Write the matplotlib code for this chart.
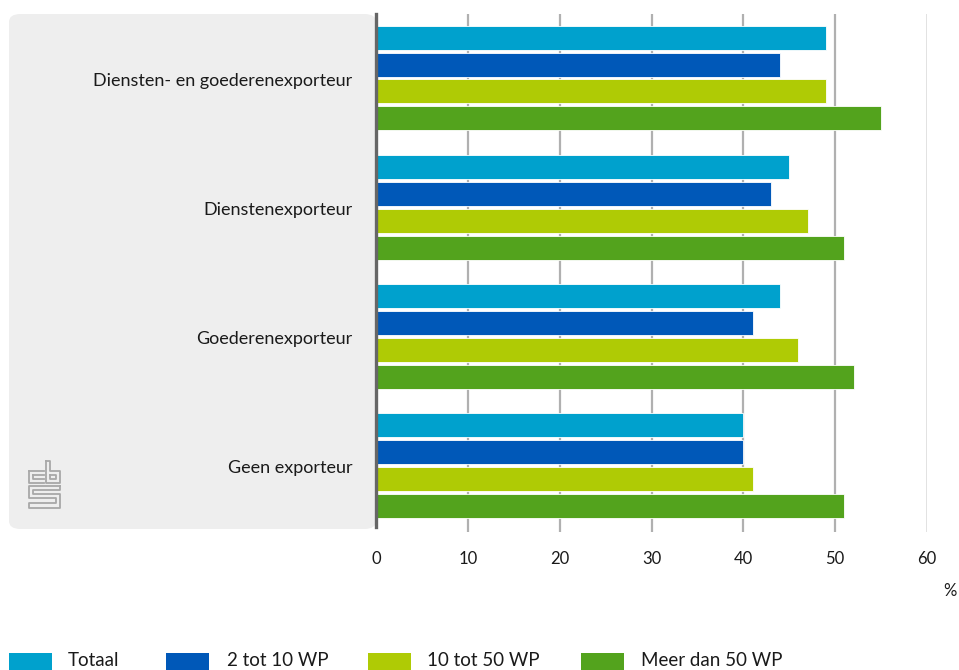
import matplotlib
matplotlib.use("Agg")
import matplotlib.pyplot as plt
from matplotlib.patches import FancyBboxPatch, Rectangle
import numpy as np

plt.rcParams['font.family'] = ['Lato', 'DejaVu Sans']

categories = ["Diensten- en goederenexporteur", "Dienstenexporteur",
              "Goederenexporteur", "Geen exporteur"]
series_names = ["Totaal", "2 tot 10 WP", "10 tot 50 WP", "Meer dan 50 WP"]
totaal = [49, 45, 44, 40]
wp_2_10 = [44, 43, 41, 40]
wp_10_50 = [49, 47, 46, 41]
wp_50_plus = [55, 51, 52, 51]
xticks = [0, 10, 20, 30, 40, 50, 60]

series = [totaal, wp_2_10, wp_10_50, wp_50_plus]
colors = ["#00a1cd", "#0058b8", "#afcb05", "#53a31d"]

W, H = 959, 670
fig = plt.figure(figsize=(W / 100, H / 100), dpi=100)

# plot area in pixel coordinates
x0, x1 = 376, 927
y_top, y_bot = 14, 532
ax = fig.add_axes([x0 / W, 1 - y_bot / H, (x1 - x0) / W, (y_bot - y_top) / H])
ax.set_facecolor("none")
ax.set_zorder(2)

# grey label panel behind the category names
panel = FancyBboxPatch((9 / W, 1 - 529 / H), (376 - 9) / W, (529 - 14) / H,
                       boxstyle="round,pad=0,rounding_size=0.012",
                       transform=fig.transFigure, facecolor="#eeeeee",
                       edgecolor="none", zorder=-1)
fig.patches.append(panel)

ypos = np.arange(len(categories))
step = 0.209
height = 0.186
for i, (vals, col) in enumerate(zip(series, colors)):
    ax.barh(ypos + (i - 1.5) * step - 0.008, vals, height=height, color=col,
            edgecolor="white", linewidth=0.6, zorder=3)

ax.set_xlim(0, 60)
ax.set_ylim(3.51, -0.504)

for v in xticks[1:-1]:
    ax.axvline(v, color="#b0b0b0", lw=1.6, zorder=1)
ax.axvline(60, color="#707070", lw=1.0, zorder=1)

for s in ["top", "right", "bottom"]:
    ax.spines[s].set_visible(False)
ax.spines["left"].set_color("#666666")
ax.spines["left"].set_linewidth(2.4)
ax.spines["left"].set_zorder(5)
ax.spines["left"].set_bounds(3.47, -0.504)

ax.set_yticks(ypos)
ax.set_yticklabels(categories, fontsize=13, color="#1a1a1a")
ax.tick_params(axis="y", length=0, pad=17)
ax.set_xticks(xticks)
ax.set_xticklabels([str(v) for v in xticks], fontsize=12, color="#1a1a1a")
ax.tick_params(axis="x", length=0, pad=14)

fig.text(950 / W, 1 - 591 / H, "%", fontsize=12, color="#1a1a1a",
         ha="center", va="center")

# cbs logo
logo_col = "#a8a8a8"
lx, ly = 29, 461  # top-left in pixels
def px(x, y):
    return (lx + x) / W, 1 - (ly + y) / H
segs = [
    # c
    [(0, 10), (0, 22), (15, 22)],
    [(15, 10), (0, 10)],
    [(4, 14), (4, 18), (15, 18)],
    [(15, 14), (4, 14)],
    # b
    [(17, 0), (17, 22), (31, 22), (31, 10), (21, 10), (21, 0), (17, 0)],
    [(21, 14), (27, 14), (27, 18), (21, 18), (21, 14)],
    # s
    [(31, 25), (0, 25), (0, 37), (27, 37), (27, 42), (0, 42), (0, 47), (31, 47),
     (31, 33), (4, 33), (4, 29), (31, 29), (31, 25)],
]
for seg in segs:
    xs, ys = zip(*[px(a, b) for a, b in seg])
    fig.add_artist(plt.Line2D(xs, ys, transform=fig.transFigure,
                              color=logo_col, lw=1.3))

# legend
patch_x = [9, 166, 368, 581]
text_x = [68, 227, 427, 641]
for name, col, pxl, txl in zip(series_names, colors, patch_x, text_x):
    fig.patches.append(Rectangle((pxl / W, 0), 43 / W, 17 / H,
                                 transform=fig.transFigure, facecolor=col,
                                 edgecolor="none"))
    fig.text(txl / W, 1 - 661 / H, name, fontsize=13.5, color="#1a1a1a",
             ha="left", va="center")

fig.savefig("out.png", dpi=100)
